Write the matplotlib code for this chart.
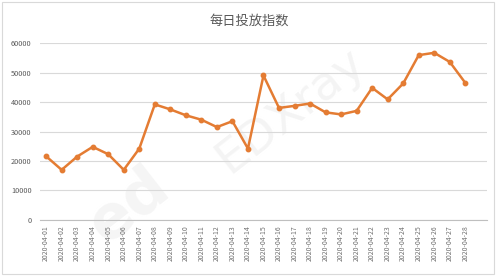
import matplotlib
matplotlib.use("Agg")
import matplotlib.pyplot as plt
from matplotlib.patches import Rectangle

plt.rcParams['font.family'] = ['Noto Sans CJK SC', 'DejaVu Sans']

title = "每日投放指数"
dates = [f"2020-04-{d:02d}" for d in range(1, 29)]
values = [21600, 17000, 21500, 24800, 22300, 17000, 24200, 39200, 37500, 35500,
          34000, 31500, 33500, 24200, 49000, 38000, 38700, 39500, 36500, 35800,
          37000, 44800, 40900, 46300, 55900, 56700, 53600, 46500]
yticks = [0, 10000, 20000, 30000, 40000, 50000, 60000]

line_color = "#E47C33"
text_color = "#595959"
grid_color = "#D9D9D9"

fig = plt.figure(figsize=(4.99, 2.76), dpi=100)
fig.patch.set_facecolor("white")
fig.patches.append(Rectangle((0.004, 0.008), 0.985, 0.985, transform=fig.transFigure,
                             fill=False, edgecolor="#D9D9D9", linewidth=0.8))

ax = fig.add_axes([0.080, 0.203, 0.896, 0.641])
x = list(range(len(dates)))

# faint watermark behind the data
ax.text(0.56, 0.62, "EDXray", transform=ax.transAxes, fontsize=34, color="#F4F4F4",
        rotation=38, ha="center", va="center", family="DejaVu Sans", zorder=0)
ax.text(0.2, 0.08, "ed", transform=ax.transAxes, fontsize=44, color="#F5F5F5",
        rotation=38, ha="center", va="center", family="DejaVu Sans",
        fontweight="bold", zorder=0)

ax.plot(x, values, color=line_color, linewidth=1.8, marker="o", markersize=3.2,
        zorder=3)

ax.set_ylim(0, 60000)
ax.set_xlim(-0.4, 28.4)
ax.set_yticks(yticks)
ax.set_yticklabels([str(v) for v in yticks], fontsize=5.3, color=text_color)
ax.set_xticks(x)
ax.set_xticklabels(dates, rotation=90, fontsize=5.0, color="#707070")
ax.tick_params(axis="both", length=0, pad=6)
ax.tick_params(axis="x", pad=4)

ax.grid(axis="y", color=grid_color, linewidth=0.8)
ax.set_axisbelow(True)
for side in ["top", "right", "left"]:
    ax.spines[side].set_visible(False)
ax.spines["bottom"].set_color("#BFBFBF")
ax.spines["bottom"].set_linewidth(0.8)

fig.text(0.5, 0.925, title, ha="center", va="center", fontsize=9.5, color=text_color)

fig.savefig("out.png", dpi=100)
